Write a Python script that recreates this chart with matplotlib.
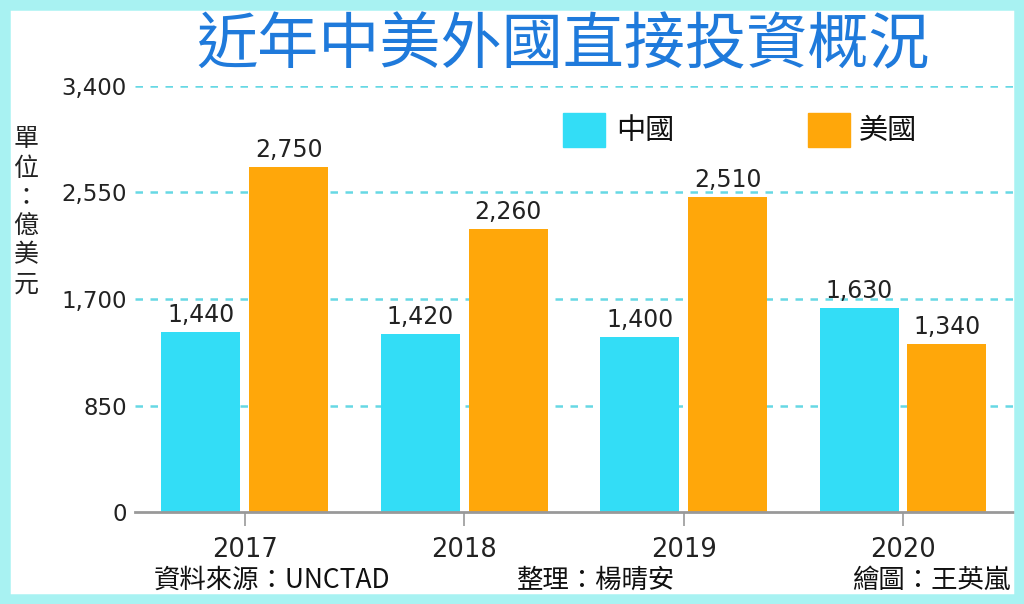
import matplotlib.pyplot as plt
import matplotlib.patches as mpatches
import numpy as np

plt.rcParams['font.family'] = ['Noto Sans CJK TC', 'DejaVu Sans']
NUM_FONT = ['DejaVu Sans']

# data
years = ['2017', '2018', '2019', '2020']
china = [1440, 1420, 1400, 1630]
usa = [2750, 2260, 2510, 1340]
yticks = [0, 850, 1700, 2550, 3400]

CYAN = '#33DDF6'
ORANGE = '#FFA70A'
BLUE = '#1F7ADB'

fig = plt.figure(figsize=(10.24, 6.04), dpi=100)
fig.patch.set_facecolor('white')

# cyan frame around the picture
frame = mpatches.Rectangle((0.004, 0.006), 0.992, 0.988, transform=fig.transFigure,
                           fill=False, edgecolor='#A8F2F2', linewidth=9, zorder=0)
fig.patches.append(frame)

ax = fig.add_axes([0.132, 0.152, 0.857, 0.706])
x = np.arange(len(years))
w = 0.36
ax.bar(x - 0.2, china, w, color=CYAN, zorder=3, label='中國')
ax.bar(x + 0.2, usa, w, color=ORANGE, zorder=3, label='美國')

for xi, v in zip(x, china):
    ax.text(xi - 0.2, v + 40, f'{v:,}', ha='center', va='bottom', fontsize=17,
            family=NUM_FONT, color='#222222')
for xi, v in zip(x, usa):
    ax.text(xi + 0.2, v + 40, f'{v:,}', ha='center', va='bottom', fontsize=17,
            family=NUM_FONT, color='#222222')

ax.set_xlim(-0.5, 3.5)
ax.set_ylim(0, 3400)
ax.set_yticks(yticks)
ax.set_yticklabels([f'{t:,}' for t in yticks], fontsize=16.5, family=NUM_FONT, color='#222222')
ax.set_xticks(x)
ax.set_xticklabels(years, fontsize=18.5, family=NUM_FONT, color='#222222')
ax.tick_params(axis='y', length=0, pad=6)
ax.tick_params(axis='x', length=10, width=1.2, color='#999999', pad=8, direction='out')

for t in yticks[1:]:
    ax.axhline(t, color='#66D8E4', linestyle=(0, (3, 3)), linewidth=1.8, zorder=1)

for s in ['top', 'right', 'left']:
    ax.spines[s].set_visible(False)
ax.spines['bottom'].set_color('#999999')
ax.spines['bottom'].set_linewidth(2)
ax.spines['bottom'].set_zorder(4)

# legend drawn by hand to match layout
fig.patches.append(mpatches.Rectangle((563 / 1024, 1 - 147 / 604), 42 / 1024, 34 / 604,
                                      transform=fig.transFigure, color=CYAN))
fig.text(616 / 1024, 1 - 131 / 604, '中國', fontsize=21, va='center', ha='left', color='#111111')
fig.patches.append(mpatches.Rectangle((808 / 1024, 1 - 147 / 604), 42 / 1024, 34 / 604,
                                      transform=fig.transFigure, color=ORANGE))
fig.text(859 / 1024, 1 - 131 / 604, '美國', fontsize=21, va='center', ha='left', color='#111111')

# title
fig.text(563 / 1024, 1 - 46 / 604, '近年中美外國直接投資概況', fontsize=44, fontweight='medium',
         color=BLUE, ha='center', va='center')

# unit label, stacked
fig.text(26 / 1024, 1 - 212 / 604, '單\n位\n：\n億\n美\n元', fontsize=18, ha='center', va='center',
         linespacing=1.15, color='#222222')

# footer
fig.text(154 / 1024, 1 - 580 / 604, '資料來源：UNCTAD', fontsize=19, ha='left', va='center', color='#111111')
fig.text(517 / 1024, 1 - 580 / 604, '整理：楊晴安', fontsize=19, ha='left', va='center', color='#111111')
fig.text(1010 / 1024, 1 - 580 / 604, '繪圖：王英嵐', fontsize=19, ha='right', va='center', color='#111111')

fig.savefig('out.png', dpi=100, facecolor='white')
